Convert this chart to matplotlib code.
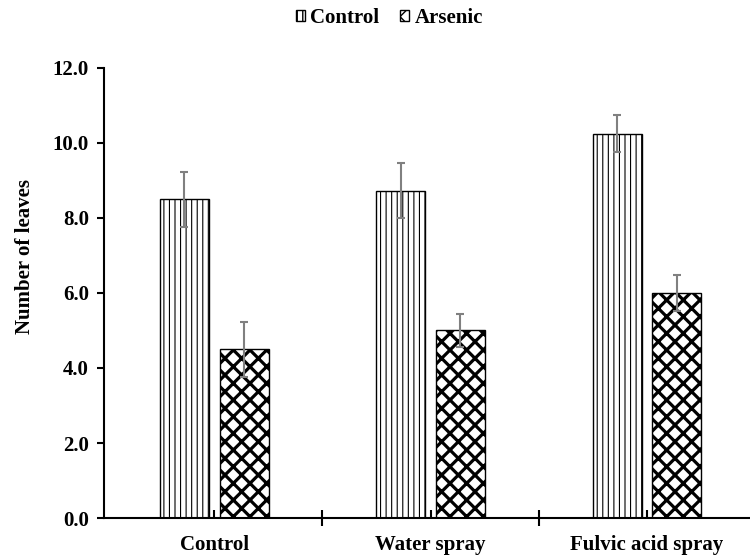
import numpy as np
import matplotlib
matplotlib.use("Agg")
import matplotlib.pyplot as plt

# data
groups = ["Control", "Water spray", "Fulvic acid spray"]
control_vals = [8.5, 8.73, 10.25]
control_err = [0.73, 0.73, 0.5]
arsenic_vals = [4.5, 5.0, 6.0]
arsenic_err = [0.73, 0.45, 0.48]
series_names = ["Control", "Arsenic"]

plt.rcParams['font.family'] = ['Liberation Serif', 'DejaVu Serif']
plt.rcParams['font.weight'] = 'bold'

fig = plt.figure(figsize=(7.5, 5.57), dpi=100)
ax = fig.add_axes([0.139, 0.070, 0.861, 0.808])

x = np.arange(len(groups))
w = 0.226
off = 0.138

with plt.rc_context({'hatch.linewidth': 0.8}):
    b1 = ax.bar(x - off, control_vals, w, facecolor='white', edgecolor='black',
                hatch='|||', linewidth=1.0, label=series_names[0], zorder=2)
with plt.rc_context({'hatch.linewidth': 2.3}):
    b2 = ax.bar(x + off, arsenic_vals, w, facecolor='white', edgecolor='black',
                hatch='xx', linewidth=1.0, label=series_names[1], zorder=2)

ax.errorbar(x - off, control_vals, yerr=control_err, fmt='none', ecolor='#808080',
            elinewidth=1.5, capsize=3, capthick=1.5, zorder=3)
ax.errorbar(x + off, arsenic_vals, yerr=arsenic_err, fmt='none', ecolor='#808080',
            elinewidth=1.5, capsize=3, capthick=1.5, zorder=3)

ax.set_xlim(-0.508, 2.476)
ax.set_ylim(0, 12)
ax.set_yticks(np.arange(0, 12.1, 2))
ax.set_yticklabels([f"{v:.1f}" for v in np.arange(0, 12.1, 2)], fontsize=15, fontweight='bold')

# boundary ticks crossing the axis, small ticks at group centres
ax.set_xticks([0.5, 1.5])
ax.set_xticklabels([])
ax.set_xticks(x, minor=True)
ax.set_xticklabels(groups, minor=True, fontsize=15, fontweight='bold')
ax.tick_params(axis='x', which='major', direction='inout', length=12, width=1.5)
ax.tick_params(axis='x', which='minor', direction='in', length=6, width=1.5, pad=12)
ax.tick_params(axis='y', direction='out', length=5, width=1.5, pad=6)

for s in ['top', 'right']:
    ax.spines[s].set_visible(False)
ax.spines['left'].set_linewidth(1.5)
ax.spines['bottom'].set_linewidth(1.5)

ax.set_ylabel("Number of leaves", fontsize=15, fontweight='bold')
ax.yaxis.set_label_coords(-0.108, 0.58)

fig.legend(handles=[b1, b2], loc='upper center', bbox_to_anchor=(0.519, 1.02), ncol=2,
           frameon=False, handlelength=0.45, handleheight=0.45, handletextpad=0.25,
           columnspacing=1.0, prop={'size': 15, 'weight': 'bold'})

fig.savefig("out.png", dpi=100)
